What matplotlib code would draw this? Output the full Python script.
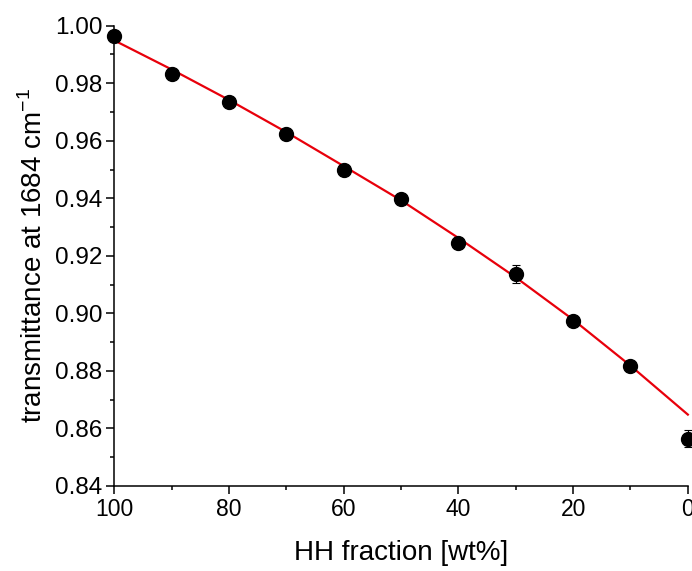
import matplotlib
matplotlib.use("Agg")
import matplotlib.pyplot as plt
from matplotlib.ticker import MultipleLocator, FormatStrFormatter

# measured points
hh_frac = [100, 90, 80, 70, 60, 50, 40, 30, 20, 10, 0]
transmittance = [0.9965, 0.9833, 0.9734, 0.9624, 0.9497, 0.9398, 0.9243, 0.9137, 0.8973, 0.8817, 0.8564]
trans_err = [0.001, 0.001, 0.001, 0.001, 0.001, 0.001, 0.0015, 0.003, 0.001, 0.001, 0.003]

# fitted curve
fit_x = [100, 90, 80, 70, 60, 50, 40, 30, 20, 10, 0]
fit_y = [0.9949, 0.9848, 0.9742, 0.9630, 0.9512, 0.9393, 0.9262, 0.9125, 0.8978, 0.8818, 0.8648]

plt.rcParams["font.family"] = ["Liberation Sans", "DejaVu Sans"]

fig = plt.figure(figsize=(6.92, 5.71), dpi=100)
ax = fig.add_axes([0.165, 0.149, 0.829, 0.806])

ax.plot(fit_x, fit_y, color="#e8000b", linewidth=1.6, zorder=2, clip_on=False)
ax.errorbar(hh_frac, transmittance, yerr=trans_err, fmt="o", color="black",
            markersize=10, elinewidth=0.8, capsize=3, capthick=0.8,
            zorder=3, clip_on=False)

ax.set_xlim(100, 0)
ax.set_ylim(0.84, 1.00)
ax.xaxis.set_major_locator(MultipleLocator(20))
ax.xaxis.set_minor_locator(MultipleLocator(10))
ax.yaxis.set_major_locator(MultipleLocator(0.02))
ax.yaxis.set_minor_locator(MultipleLocator(0.01))
ax.yaxis.set_major_formatter(FormatStrFormatter("%.2f"))

for side in ["top", "right"]:
    ax.spines[side].set_visible(False)
for side in ["left", "bottom"]:
    ax.spines[side].set_linewidth(1.1)

ax.tick_params(which="major", direction="out", length=5.5, width=1.1)
ax.tick_params(which="minor", direction="out", length=3, width=1.1)
ax.tick_params(axis="x", which="major", labelsize=16.5, pad=3)
ax.tick_params(axis="y", which="major", labelsize=17.5, pad=3)

ax.set_xlabel("HH fraction [wt%]", fontsize=20, labelpad=14)
ax.set_ylabel(r"transmittance at 1684 cm$^{\mathregular{-1}}$", fontsize=20, labelpad=5)

fig.savefig("out.png", dpi=100)
